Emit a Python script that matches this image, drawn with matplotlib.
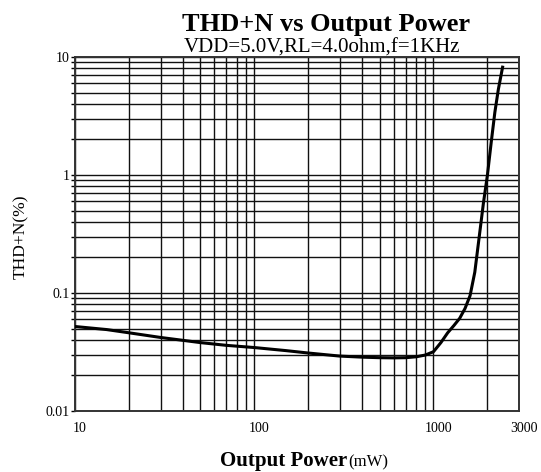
import matplotlib
matplotlib.use("Agg")
import matplotlib.pyplot as plt
import matplotlib.transforms as mtransforms
from matplotlib.ticker import LogLocator, FixedLocator, FixedFormatter, NullFormatter

plt.rcParams['font.family'] = ['Liberation Serif', 'DejaVu Serif']

power_mw = [10, 15, 20, 30, 50, 70, 100, 150, 200, 300, 400, 500, 600, 700, 800,
            900, 1000, 1100, 1200, 1300, 1400, 1500, 1600, 1700, 1800, 1900, 2000,
            2100, 2200, 2300, 2430]
thdn_pct = [0.052, 0.049, 0.046, 0.042, 0.038, 0.036, 0.0345, 0.0325, 0.031, 0.0292,
            0.0286, 0.0283, 0.0282, 0.0283, 0.0288, 0.0298, 0.0318, 0.038, 0.046,
            0.053, 0.061, 0.074, 0.095, 0.15, 0.30, 0.58, 1.0, 1.9, 3.4, 5.3, 8.2]

x_ticks = [10, 100, 1000, 3000]
x_tick_labels = ["10", "100", "1000", "3000"]
y_ticks = [0.01, 0.1, 1, 10]
y_tick_labels = ["0.01", "0.1", "1", "10"]

fig = plt.figure(figsize=(5.41, 4.72), dpi=100)
ax = fig.add_axes([75/541, 1-411/472, (519-75)/541, (411-57)/472])

ax.plot(power_mw, thdn_pct, color='black', lw=2.2, solid_joinstyle='round', zorder=3)
ax.set_xscale('log')
ax.set_yscale('log')
ax.set_xlim(10, 3000)
ax.set_ylim(0.01, 10)

ax.xaxis.set_major_locator(FixedLocator(x_ticks))
ax.xaxis.set_major_formatter(FixedFormatter(x_tick_labels))
ax.xaxis.set_minor_locator(LogLocator(base=10, subs=range(2, 10), numticks=20))
ax.xaxis.set_minor_formatter(NullFormatter())
ax.yaxis.set_major_locator(FixedLocator(y_ticks))
ax.yaxis.set_major_formatter(FixedFormatter(y_tick_labels))
ax.yaxis.set_minor_locator(LogLocator(base=10, subs=range(2, 10), numticks=20))
ax.yaxis.set_minor_formatter(NullFormatter())

ax.grid(True, which='both', color='#111111', lw=1.0)
ax.tick_params(axis='x', which='both', length=0, labelsize=10, pad=8)
ax.tick_params(axis='y', which='both', length=3, width=1.0, labelsize=10, pad=1)
for s in ax.spines.values():
    s.set_color('#333333')
    s.set_linewidth(1.4)

offset = mtransforms.ScaledTranslation(0.05, 0, fig.dpi_scale_trans)
for lab in ax.get_xticklabels():
    lab.set_transform(lab.get_transform() + offset)

fig.text(0.602, 1-31/472, "THD+N vs Output Power", ha='center', va='baseline',
         fontsize=19, fontweight='bold')
fig.text(0.595, 1-53/472, "VDD=5.0V,RL=4.0ohm,f=1KHz", ha='center', va='baseline',
         fontsize=15)
fig.text(347/541, 1-466/472, "Output Power", ha='right', va='baseline', fontsize=15,
         fontweight='bold')
fig.text(348/541, 1-466/472, "(mW)", ha='left', va='baseline', fontsize=12)
fig.text(21/541, 1-237/472, "THD+N(%)", rotation=90, ha='center', va='center',
         fontsize=12.5)

fig.savefig("out.png", dpi=100)
